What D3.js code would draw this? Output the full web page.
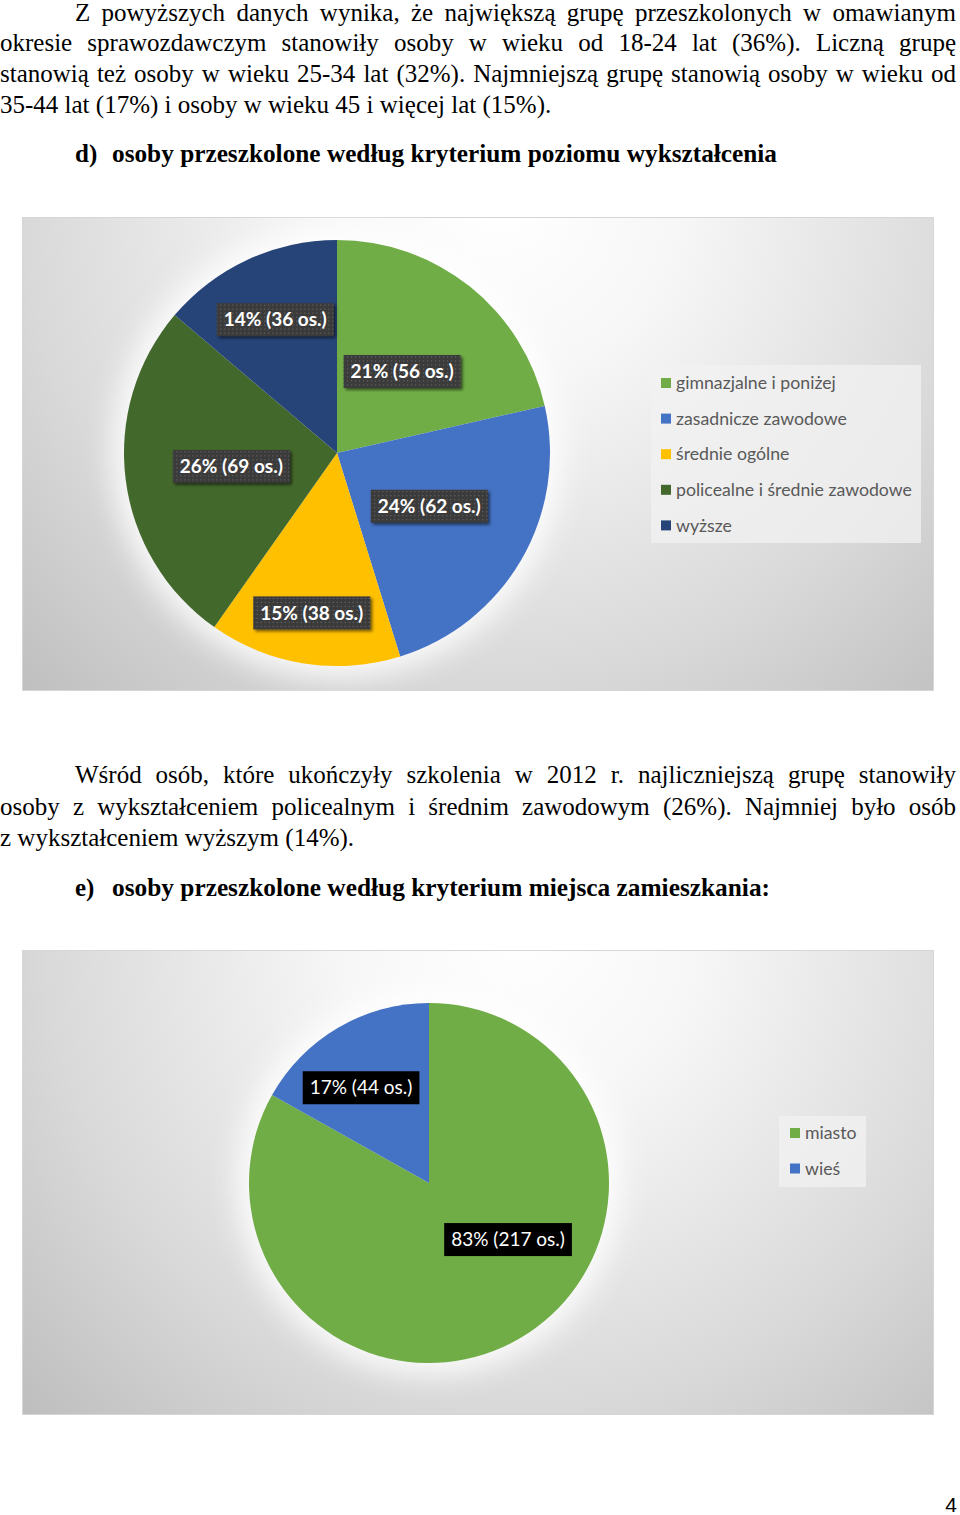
<!DOCTYPE html>
<html>
<head>
<meta charset="utf-8">
<script src="https://cdn.jsdelivr.net/npm/d3@7"></script>
<style>
  html, body { margin: 0; padding: 0; background: #ffffff; }
  svg { display: block; }
</style>
</head>
<body>
<svg id="page" width="960" height="1515"></svg>
<script>
// ---------------- DATA ----------------
const eduCategories = ["gimnazjalne i poniżej", "zasadnicze zawodowe", "średnie ogólne", "policealne i średnie zawodowe", "wyższe"];
const eduCounts = [56, 62, 38, 69, 36];
const eduPercents = [21, 24, 15, 26, 14];
const eduColors = ["#70AD47", "#4472C4", "#FFC000", "#43682B", "#264478"];

const placeCategories = ["miasto", "wieś"];
const placeCounts = [217, 44];
const placePercents = [83, 17];
const placeColors = ["#70AD47", "#4472C4"];

const para1 = [
  "Z powyższych danych wynika, że największą grupę przeszkolonych w omawianym",
  "okresie sprawozdawczym stanowiły osoby w wieku od 18-24 lat (36%). Liczną grupę",
  "stanowią też osoby w wieku 25-34 lat (32%). Najmniejszą grupę stanowią osoby w wieku od",
  "35-44 lat (17%) i osoby w wieku 45 i więcej lat (15%)."
];
const headingD = ["d)", "osoby przeszkolone według kryterium poziomu wykształcenia"];
const para2 = [
  "Wśród osób, które ukończyły szkolenia w 2012 r. najliczniejszą grupę stanowiły",
  "osoby z wykształceniem policealnym i średnim zawodowym (26%). Najmniej było osób",
  "z wykształceniem wyższym (14%)."
];
const headingE = ["e)", "osoby przeszkolone według kryterium miejsca zamieszkania:"];
const pageNumber = "4";

// ---------------- LAYOUT ----------------
const svg = d3.select("#page");
svg.append("rect").attr("width", 960).attr("height", 1515).attr("fill", "#fff");
const defs = svg.append("defs");

const serif = "'Liberation Serif', 'Times New Roman', serif";
const sans = "Lato, 'Open Sans', sans-serif";

function textLine(g, str, x0, x1, y, justify) {
  if (!justify) {
    g.append("text").attr("x", x0).attr("y", y).text(str)
      .attr("font-family", serif).attr("font-size", 25).attr("fill", "#000");
    return;
  }
  const words = str.split(" ");
  const nodes = words.map(w => g.append("text").attr("y", y).text(w)
      .attr("font-family", serif).attr("font-size", 25).attr("fill", "#000"));
  const widths = nodes.map(n => n.node().getComputedTextLength());
  const sum = d3.sum(widths);
  const gap = (x1 - x0 - sum) / (words.length - 1);
  let x = x0;
  nodes.forEach((n, i) => { n.attr("x", x); x += widths[i] + gap; });
}

function heading(g, parts, y, x1) {
  g.append("text").attr("x", 75).attr("y", y).text(parts[0])
    .attr("font-family", serif).attr("font-size", 25).attr("font-weight", "bold");
  g.append("text").attr("x", 112).attr("y", y).text(parts[1])
    .attr("font-family", serif).attr("font-size", 25).attr("font-weight", "bold")
    .attr("textLength", x1 - 112).attr("lengthAdjust", "spacingAndGlyphs");
}

const tg = svg.append("g");
const p1Base = [21, 51, 82, 113];
para1.forEach((l, i) => textLine(tg, l, i === 0 ? 75 : 0, 956, p1Base[i], i < para1.length - 1));
heading(tg, headingD, 162, 777);

const p2Base = [783, 815, 846];
para2.forEach((l, i) => textLine(tg, l, i === 0 ? 75 : 0, 956, p2Base[i], i < para2.length - 1));
heading(tg, headingE, 896, 770);

tg.append("text").attr("x", 957).attr("y", 1512).attr("text-anchor", "end").text(pageNumber)
  .attr("font-family", "'Liberation Sans', Arial, sans-serif").attr("font-size", 21);

// background gradients
function makeGrad(id, cx, cy) {
  const g = defs.append("radialGradient").attr("id", id)
    .attr("gradientUnits", "userSpaceOnUse").attr("cx", cx).attr("cy", cy).attr("r", 700);
  g.append("stop").attr("offset", 0).attr("stop-color", "#ffffff");
  g.append("stop").attr("offset", 0.25).attr("stop-color", "#f7f7f7");
  g.append("stop").attr("offset", 0.68).attr("stop-color", "#d9d9d9");
  g.append("stop").attr("offset", 1).attr("stop-color", "#bdbdbd");
}
makeGrad("bg1", 500, 200);
makeGrad("bg2", 520, 930);

// filters
const glow = defs.append("filter").attr("id", "glow").attr("x", "-30%").attr("y", "-30%").attr("width", "160%").attr("height", "160%");
glow.append("feGaussianBlur").attr("stdDeviation", 14);
const sh = defs.append("filter").attr("id", "lblShadow").attr("x", "-20%").attr("y", "-30%").attr("width", "150%").attr("height", "170%");
sh.append("feDropShadow").attr("dx", 2).attr("dy", 2).attr("stdDeviation", 1.6).attr("flood-color", "#000").attr("flood-opacity", 0.55);

const pat = defs.append("pattern").attr("id", "dots").attr("width", 4).attr("height", 4).attr("patternUnits", "userSpaceOnUse");
pat.append("rect").attr("width", 4).attr("height", 4).attr("fill", "#3b3b3b");
pat.append("rect").attr("x", 1).attr("y", 1).attr("width", 1).attr("height", 1).attr("fill", "#707070");

function chartFrame(x, y, w, h, grad) {
  svg.append("rect").attr("x", x).attr("y", y).attr("width", w).attr("height", h)
    .attr("fill", `url(#${grad})`).attr("stroke", "#d6d6d6").attr("stroke-width", 1);
}

// ---------- Chart d ----------
chartFrame(22.5, 217.5, 911, 473, "bg1");
const c1 = { cx: 337, cy: 453, r: 213 };
const eduLabelR = [0.49, 0.5, 0.76, 0.5, 0.69];
const pie = d3.pie().sort(null).value(d => d);
const arcs1 = pie(eduCounts);
const arc1 = d3.arc().innerRadius(0).outerRadius(c1.r);
const g1 = svg.append("g").attr("transform", `translate(${c1.cx},${c1.cy})`);
g1.append("circle").attr("r", c1.r + 12).attr("fill", "#ffffff").attr("opacity", 0.85).attr("filter", "url(#glow)");
g1.selectAll("path.s").data(arcs1).join("path").attr("class", "s")
  .attr("d", arc1).attr("fill", (d, i) => eduColors[i]);

arcs1.forEach((d, i) => {
  const a = (d.startAngle + d.endAngle) / 2;
  const rr = eduLabelR[i] * c1.r;
  const x = rr * Math.sin(a), y = -rr * Math.cos(a);
  const lg = g1.append("g").attr("transform", `translate(${x},${y})`);
  const bx = lg.append("rect").attr("fill", "url(#dots)").attr("filter", "url(#lblShadow)");
  const t = lg.append("text").attr("text-anchor", "middle").attr("dy", "0.35em")
    .attr("font-family", sans).attr("font-weight", "bold").attr("font-size", 19).attr("fill", "#fff")
    .text(`${eduPercents[i]}% (${eduCounts[i]} os.)`);
  const w = t.node().getComputedTextLength() + 14;
  bx.attr("x", -w / 2).attr("y", -16.5).attr("width", w).attr("height", 33);
});

// legend d
const lg1 = svg.append("g").attr("transform", "translate(651,365)");
lg1.append("rect").attr("width", 270).attr("height", 178).attr("fill", "#f2f2f2").attr("opacity", 0.75);
eduCategories.forEach((c, i) => {
  const y = 18 + i * 35.6;
  lg1.append("rect").attr("x", 10).attr("y", y - 5).attr("width", 10).attr("height", 10).attr("fill", eduColors[i]);
  lg1.append("text").attr("x", 25).attr("y", y).attr("dy", "0.35em").text(c)
    .attr("font-family", sans).attr("font-size", 17.7).attr("fill", "#595959");
});

// ---------- Chart e ----------
chartFrame(22.5, 950.5, 911, 464, "bg2");
const c2 = { cx: 429, cy: 1183, r: 180 };
const placeLabelPos = [{ r: 0.54, da: -0.42 }, { r: 0.65, da: -0.09 }];
const arcs2 = pie(placeCounts);
const arc2 = d3.arc().innerRadius(0).outerRadius(c2.r);
const g2 = svg.append("g").attr("transform", `translate(${c2.cx},${c2.cy})`);
g2.append("circle").attr("r", c2.r + 12).attr("fill", "#ffffff").attr("opacity", 0.85).attr("filter", "url(#glow)");
g2.selectAll("path.s").data(arcs2).join("path").attr("class", "s")
  .attr("d", arc2).attr("fill", (d, i) => placeColors[i]);
arcs2.forEach((d, i) => {
  const a = (d.startAngle + d.endAngle) / 2 + placeLabelPos[i].da;
  const rr = placeLabelPos[i].r * c2.r;
  const x = rr * Math.sin(a), y = -rr * Math.cos(a);
  const lg = g2.append("g").attr("transform", `translate(${x},${y})`);
  const bx = lg.append("rect").attr("fill", "#000");
  const t = lg.append("text").attr("text-anchor", "middle").attr("dy", "0.35em")
    .attr("font-family", sans).attr("font-size", 19).attr("fill", "#fff")
    .text(`${placePercents[i]}% (${placeCounts[i]} os.)`);
  const w = t.node().getComputedTextLength() + 14;
  bx.attr("x", -w / 2).attr("y", -16.5).attr("width", w).attr("height", 33);
});

const lg2 = svg.append("g").attr("transform", "translate(779,1116)");
lg2.append("rect").attr("width", 87).attr("height", 71).attr("fill", "#f2f2f2").attr("opacity", 0.75);
placeCategories.forEach((c, i) => {
  const y = 17 + i * 35.5;
  lg2.append("rect").attr("x", 11).attr("y", y - 5).attr("width", 10).attr("height", 10).attr("fill", placeColors[i]);
  lg2.append("text").attr("x", 26).attr("y", y).attr("dy", "0.35em").text(c)
    .attr("font-family", sans).attr("font-size", 17.7).attr("fill", "#595959");
});
</script>
</body>
</html>
